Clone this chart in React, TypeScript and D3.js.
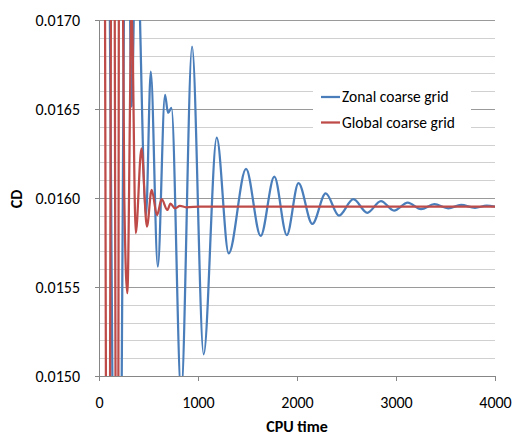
import React, { useRef, useEffect } from 'react';
import * as d3 from 'd3';

// CPU time / CD samples (peaks, troughs and off-scale spikes)
const zonalTime = [0, 58, 187, 283, 330, 374, 475, 523, 594, 667, 697, 732, 830, 940, 1057, 1189, 1310, 1485, 1633, 1771, 1897, 2015, 2155, 2290, 2424, 2569, 2710, 2848, 2980, 3118, 3253, 3387, 3528, 3657, 3798, 3916, 4000];
const zonalCd = [0.0195, 0.0195, 0.0125, 0.0185, 0.016513, 0.0176, 0.015904, 0.01671, 0.015614, 0.016579, 0.016478, 0.016506, 0.0149, 0.01685, 0.015122, 0.016339, 0.015689, 0.016163, 0.015787, 0.01612, 0.015792, 0.016083, 0.015854, 0.016026, 0.015901, 0.015993, 0.015917, 0.015983, 0.015929, 0.015974, 0.015937, 0.015965, 0.015942, 0.015961, 0.015945, 0.015957, 0.015952];

const globalTime = [0, 40, 91, 141, 185, 210, 255, 286, 330, 371, 429, 484, 532, 586, 633, 690, 722, 768, 818, 879, 1020, 1500, 2500, 4000];
const globalCd = [0.02, 0.02, 0.012, 0.02, 0.012, 0.0195, 0.01602, 0.015465, 0.01705, 0.015802, 0.016279, 0.015839, 0.016045, 0.015904, 0.015993, 0.015933, 0.015968, 0.015942, 0.015956, 0.015948, 0.015951, 0.015952, 0.015951, 0.015951];

const xTicks = [0, 1000, 2000, 3000, 4000];
const yTicks = [0.015, 0.0155, 0.016, 0.0165, 0.017];
const seriesNames = ['Zonal coarse grid', 'Global coarse grid'];
const seriesColors = ['#4a7ebb', '#be4b48'];

const FONT = 'Calibri, Carlito, Lato, sans-serif';
const FS = 16;

const App = () => {
    const svgRef = useRef<SVGSVGElement>(null);

    useEffect(() => {
        const svg = d3.select(svgRef.current);
        svg.selectAll('*').remove();

        const width = 513;
        const height = 438;
        const margin = { top: 20, right: 18, bottom: 62, left: 99 };

        const x = d3.scaleLinear().domain([0, 4000]).range([margin.left, width - margin.right]);
        const y = d3.scaleLinear().domain([0.015, 0.017]).range([height - margin.bottom, margin.top]);

        // horizontal gridlines, minor every 0.0001
        const grid = d3.range(0, 21).map(i => 0.015 + i * 0.0001);
        svg.append('g')
            .selectAll('line')
            .data(grid)
            .enter()
            .append('line')
            .attr('x1', x(0))
            .attr('x2', x(4000))
            .attr('y1', d => Math.round(y(d)) + 0.5)
            .attr('y2', d => Math.round(y(d)) + 0.5)
            .attr('stroke', (d, i) => (i % 5 === 0 ? '#9a9a9a' : '#d0d0d0'))
            .attr('stroke-width', 1);

        // y axis
        const yAxis = svg.append('g')
            .attr('transform', `translate(${margin.left},0)`)
            .call(d3.axisLeft(y).tickValues(yTicks).tickFormat(d3.format('.4f')).tickSize(4).tickSizeOuter(0).tickPadding(15));
        yAxis.select('.domain').attr('stroke', '#868686');
        yAxis.selectAll('line').attr('stroke', '#868686');
        yAxis.selectAll('text').attr('font-family', FONT).attr('font-size', FS).attr('fill', '#000');

        // x axis
        const xAxis = svg.append('g')
            .attr('transform', `translate(0,${height - margin.bottom})`)
            .call(d3.axisBottom(x).tickValues(xTicks).tickFormat(d3.format('d')).tickSize(5).tickSizeOuter(0).tickPadding(16));
        xAxis.select('.domain').attr('stroke', '#868686');
        xAxis.selectAll('line').attr('stroke', '#868686');
        xAxis.selectAll('text').attr('font-family', FONT).attr('font-size', FS).attr('fill', '#000');

        // clip to plot area
        svg.append('clipPath')
            .attr('id', 'plot-clip')
            .append('rect')
            .attr('x', margin.left)
            .attr('y', margin.top)
            .attr('width', width - margin.left - margin.right)
            .attr('height', height - margin.top - margin.bottom);

        const line = d3.line<[number, number]>()
            .x(d => x(d[0]))
            .y(d => y(d[1]))
            .curve(d3.curveMonotoneX);

        const zonal: [number, number][] = zonalTime.map((t, i) => [t, zonalCd[i]]);
        const global: [number, number][] = globalTime.map((t, i) => [t, globalCd[i]]);

        const lines = svg.append('g').attr('clip-path', 'url(#plot-clip)');
        lines.append('path')
            .attr('d', line(zonal))
            .attr('fill', 'none')
            .attr('stroke', seriesColors[0])
            .attr('stroke-width', 2.25);
        lines.append('path')
            .attr('d', line(global))
            .attr('fill', 'none')
            .attr('stroke', seriesColors[1])
            .attr('stroke-width', 2.25);

        // axis titles
        svg.append('text')
            .attr('x', 297)
            .attr('y', 432)
            .attr('text-anchor', 'middle')
            .attr('font-family', FONT)
            .attr('font-size', FS)
            .attr('font-weight', 'bold')
            .text('CPU time');

        svg.append('text')
            .attr('transform', 'translate(22,199) rotate(-90)')
            .attr('text-anchor', 'middle')
            .attr('font-family', FONT)
            .attr('font-size', FS)
            .attr('font-weight', 'bold')
            .text('CD');

        // legend
        const legend = svg.append('g');
        legend.append('rect')
            .attr('x', 313)
            .attr('y', 87)
            .attr('width', 158)
            .attr('height', 43)
            .attr('fill', '#fff');

        seriesNames.forEach((name, i) => {
            const ly = 97 + i * 25.5;
            legend.append('line')
                .attr('x1', 321)
                .attr('x2', 340)
                .attr('y1', ly)
                .attr('y2', ly)
                .attr('stroke', seriesColors[i])
                .attr('stroke-width', 2.25);
            legend.append('text')
                .attr('x', 342)
                .attr('y', ly + 5)
                .attr('font-family', FONT)
                .attr('font-size', 15.5)
                .attr('fill', '#000')
                .text(name);
        });
    }, []);

    return (
        <svg ref={svgRef} width={513} height={438} style={{ position: 'absolute', left: 0, top: 0, background: '#fff' }} />
    );
};

export default App;
